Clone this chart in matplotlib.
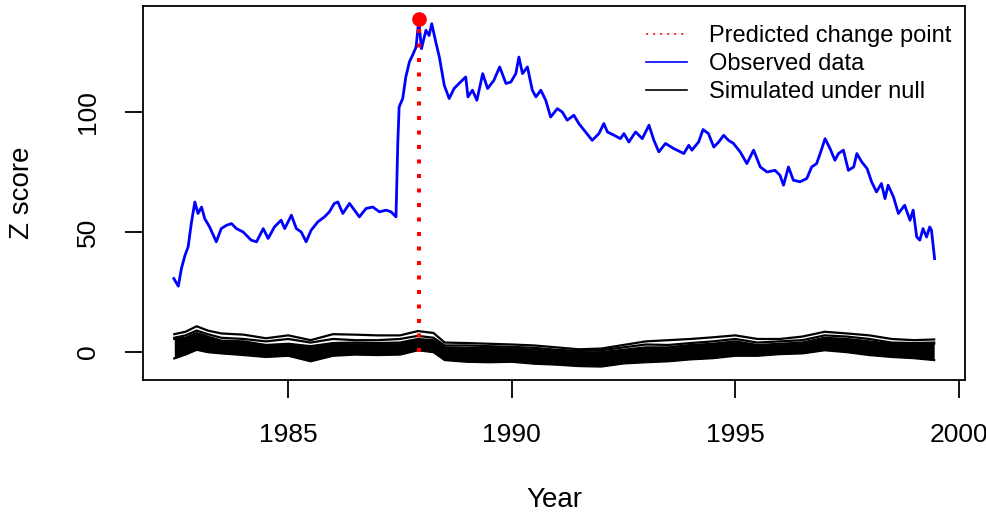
import matplotlib
matplotlib.use("Agg")
import matplotlib.pyplot as plt
from matplotlib.lines import Line2D

plt.rcParams['font.family'] = ['Liberation Sans', 'DejaVu Sans']

# ---------------- data ----------------
obs_year = [1982.44, 1982.54, 1982.61, 1982.69, 1982.76, 1982.83, 1982.91, 1982.98, 1983.06, 1983.13,
            1983.24, 1983.39, 1983.50, 1983.62, 1983.73, 1983.84, 1983.99, 1984.17, 1984.29, 1984.44,
            1984.55, 1984.69, 1984.84, 1984.92, 1985.07, 1985.18, 1985.29, 1985.40, 1985.51, 1985.66,
            1985.81, 1985.92, 1986.03, 1986.11, 1986.22, 1986.37, 1986.59, 1986.74, 1986.89, 1987.04,
            1987.19, 1987.30, 1987.41, 1987.45, 1987.48, 1987.56, 1987.63, 1987.71, 1987.78, 1987.86,
            1987.92, 1987.98, 1988.08, 1988.15, 1988.21, 1988.30, 1988.38, 1988.49, 1988.60, 1988.71,
            1988.82, 1988.97, 1989.02, 1989.12, 1989.22, 1989.35, 1989.46, 1989.60, 1989.73, 1989.87,
            1989.98, 1990.09, 1990.16, 1990.24, 1990.35, 1990.46, 1990.54, 1990.65, 1990.76, 1990.87,
            1991.02, 1991.13, 1991.24, 1991.39, 1991.50, 1991.65, 1991.80, 1991.95, 1992.06, 1992.14,
            1992.29, 1992.43, 1992.51, 1992.62, 1992.77, 1992.92, 1993.07, 1993.18, 1993.29, 1993.44,
            1993.62, 1993.85, 1993.96, 1994.03, 1994.18, 1994.28, 1994.40, 1994.52, 1994.63, 1994.74,
            1994.85, 1994.96, 1995.11, 1995.26, 1995.41, 1995.56, 1995.71, 1995.89, 1996.00, 1996.08,
            1996.19, 1996.30, 1996.45, 1996.60, 1996.71, 1996.82, 1996.90, 1997.01, 1997.12, 1997.23,
            1997.31, 1997.42, 1997.53, 1997.65, 1997.72, 1997.83, 1997.95, 1998.05, 1998.16, 1998.27,
            1998.35, 1998.42, 1998.54, 1998.65, 1998.79, 1998.91, 1998.98, 1999.06, 1999.13, 1999.20,
            1999.28, 1999.35, 1999.39, 1999.46]
obs_z = [30.7, 27.5, 34.9, 40.4, 43.9, 53.6, 62.6, 57.8, 60.5, 55.7,
         52.2, 46.0, 51.5, 52.9, 53.6, 51.5, 50.1, 46.7, 46.0, 51.5,
         47.4, 52.2, 55.0, 51.5, 57.1, 51.5, 50.1, 46.0, 50.8, 54.3,
         56.4, 58.5, 62.0, 62.6, 57.8, 62.0, 56.4, 59.9, 60.5, 58.5,
         59.2, 58.5, 56.4, 87.0, 102.2, 105.7, 114.7, 121.0, 123.75, 127.2,
         138.5, 126.5, 134.2, 132.0, 136.9, 129.3, 123.0, 111.25, 105.7, 109.9,
         112.0, 114.7, 106.4, 109.2, 105.0, 116.1, 109.9, 113.3, 118.9, 112.0,
         112.6, 116.1, 123.0, 116.1, 118.9, 109.2, 106.4, 109.2, 105.0, 98.0,
         101.5, 100.1, 96.7, 98.75, 95.3, 91.8, 88.3, 91.1, 95.3, 91.8,
         90.4, 89.0, 91.1, 87.6, 91.8, 89.0, 94.6, 88.3, 83.5, 87.0,
         84.9, 82.8, 86.25, 84.2, 87.6, 92.8, 91.1, 85.5, 87.6, 90.4,
         88.3, 87.0, 83.5, 78.6, 84.2, 77.2, 75.1, 75.8, 73.75, 69.6,
         77.2, 71.7, 71.0, 72.4, 77.2, 78.6, 82.8, 89.0, 84.9, 80.0,
         82.8, 84.2, 75.8, 77.2, 82.8, 79.3, 76.5, 71.0, 66.8, 70.3,
         64.0, 69.6, 64.7, 57.8, 61.25, 55.0, 59.2, 48.0, 46.7, 51.5,
         48.0, 52.2, 50.8, 39.0]

null_year = [1982.45, 1982.7, 1982.95, 1983.2, 1983.5, 1984.0, 1984.5, 1985.0, 1985.5, 1986.0,
             1986.5, 1987.0, 1987.5, 1987.9, 1988.25, 1988.5, 1989.0, 1989.5, 1990.0, 1990.5,
             1991.0, 1991.5, 1992.0, 1992.5, 1993.0, 1993.5, 1994.0, 1994.5, 1995.0, 1995.5,
             1996.0, 1996.5, 1997.0, 1997.5, 1998.0, 1998.5, 1999.0, 1999.45]
null_top = [7.5, 8.5, 10.8, 9.0, 7.8, 7.3, 5.8, 7.0, 5.0, 7.5,
            7.3, 7.0, 7.0, 8.8, 8.0, 4.0, 3.8, 3.5, 3.2, 2.8,
            2.0, 1.2, 1.5, 3.0, 4.5, 5.0, 5.5, 6.2, 7.0, 5.5,
            5.5, 6.5, 8.5, 7.8, 7.0, 5.5, 5.0, 5.3]
null_second = [6.0, 7.0, 9.0, 7.5, 6.0, 5.5, 4.5, 5.5, 4.0, 5.5,
               5.0, 5.0, 5.5, 6.8, 6.0, 2.8, 2.8, 2.5, 2.2, 1.8,
               1.0, 0.5, 0.8, 2.0, 3.2, 3.0, 3.8, 4.5, 5.5, 4.0,
               4.5, 5.0, 7.0, 6.5, 5.5, 4.0, 3.8, 4.0]
null_core_top = [5.5, 6.0, 8.0, 6.5, 4.8, 4.5, 3.0, 3.5, 2.5, 3.8,
                 4.0, 3.8, 4.0, 5.5, 5.0, 2.0, 1.8, 1.8, 1.5, 1.0,
                 0.5, -0.2, 0.0, 1.0, 2.0, 2.0, 3.0, 3.5, 4.5, 3.0,
                 3.5, 4.0, 6.0, 5.5, 4.5, 3.5, 3.0, 3.5]
null_bottom = [-2.6, -1.0, 1.0, 0.0, -0.5, -1.2, -2.0, -1.5, -3.8, -1.5,
               -1.0, -1.2, -1.0, 0.8, 0.0, -3.3, -4.0, -4.2, -4.0, -4.8,
               -5.2, -5.8, -6.0, -4.7, -4.2, -3.8, -3.0, -2.5, -1.5, -1.5,
               -0.8, -0.5, 0.8, 0.0, -1.2, -2.0, -2.5, -3.3]

cp_year = 1987.92
cp_z = 138.75

x_ticks = [1985, 1990, 1995, 2000]
y_ticks = [0, 50, 100]
legend_labels = ["Predicted change point", "Observed data", "Simulated under null"]

# ---------------- figure ----------------
W, H = 987, 515
fig = plt.figure(figsize=(W / 100, H / 100), dpi=100)
L, R, T, B = 143, 965, 5.5, 380
ax = fig.add_axes([L / W, 1 - B / H, (R - L) / W, (B - T) / H])

# simulated under null
ax.fill_between(null_year, null_bottom, null_core_top, color='black', lw=0)
for s in (null_top, null_second, null_core_top, null_bottom):
    ax.plot(null_year, s, color='black', lw=1.6)

# observed
ax.plot(obs_year, obs_z, color='#0000ff', lw=2.0)

# change point
ax.vlines(cp_year, 0, cp_z, colors='#ff0000', linestyles=(0, (1, 2.6)), lw=2.9)
ax.plot([cp_year], [cp_z], 'o', color='#ff0000', ms=9.5, mec='#ff0000')

ax.set_xlim(1981.75, 2000.14)
ax.set_ylim(-11.6, 144.5)
ax.set_xticks(x_ticks)
ax.set_yticks(y_ticks)
ax.set_xticklabels([str(v) for v in x_ticks])
ax.set_yticklabels([str(v) for v in y_ticks], rotation=90, va='center')

for sp in ax.spines.values():
    sp.set_linewidth(1.3)
ax.tick_params(direction='out', length=13, width=1.3, labelsize=19, pad=18)

ax.set_xlabel("Year", fontsize=20)
ax.set_ylabel("Z score", fontsize=20)
ax.xaxis.set_label_coords(0.5, -(500 - B) / (B - T))
ax.xaxis.label.set_va('center')
ax.yaxis.set_label_coords(-(L - 22) / (R - L), 0.5)
ax.yaxis.label.set_va('center')

handles = [Line2D([], [], color='#ff0000', lw=1.1, ls=(0, (1.4, 3.2))),
           Line2D([], [], color='#0000ff', lw=1.2),
           Line2D([], [], color='black', lw=1.2)]
ax.legend(handles, legend_labels, loc='upper left', frameon=False, fontsize=17,
          bbox_to_anchor=(646 / W, 1 - 25 / H), bbox_transform=fig.transFigure,
          borderpad=0, borderaxespad=0, handlelength=1.75, handletextpad=0.9,
          labelspacing=0.26)

fig.savefig("out.png", dpi=100)
